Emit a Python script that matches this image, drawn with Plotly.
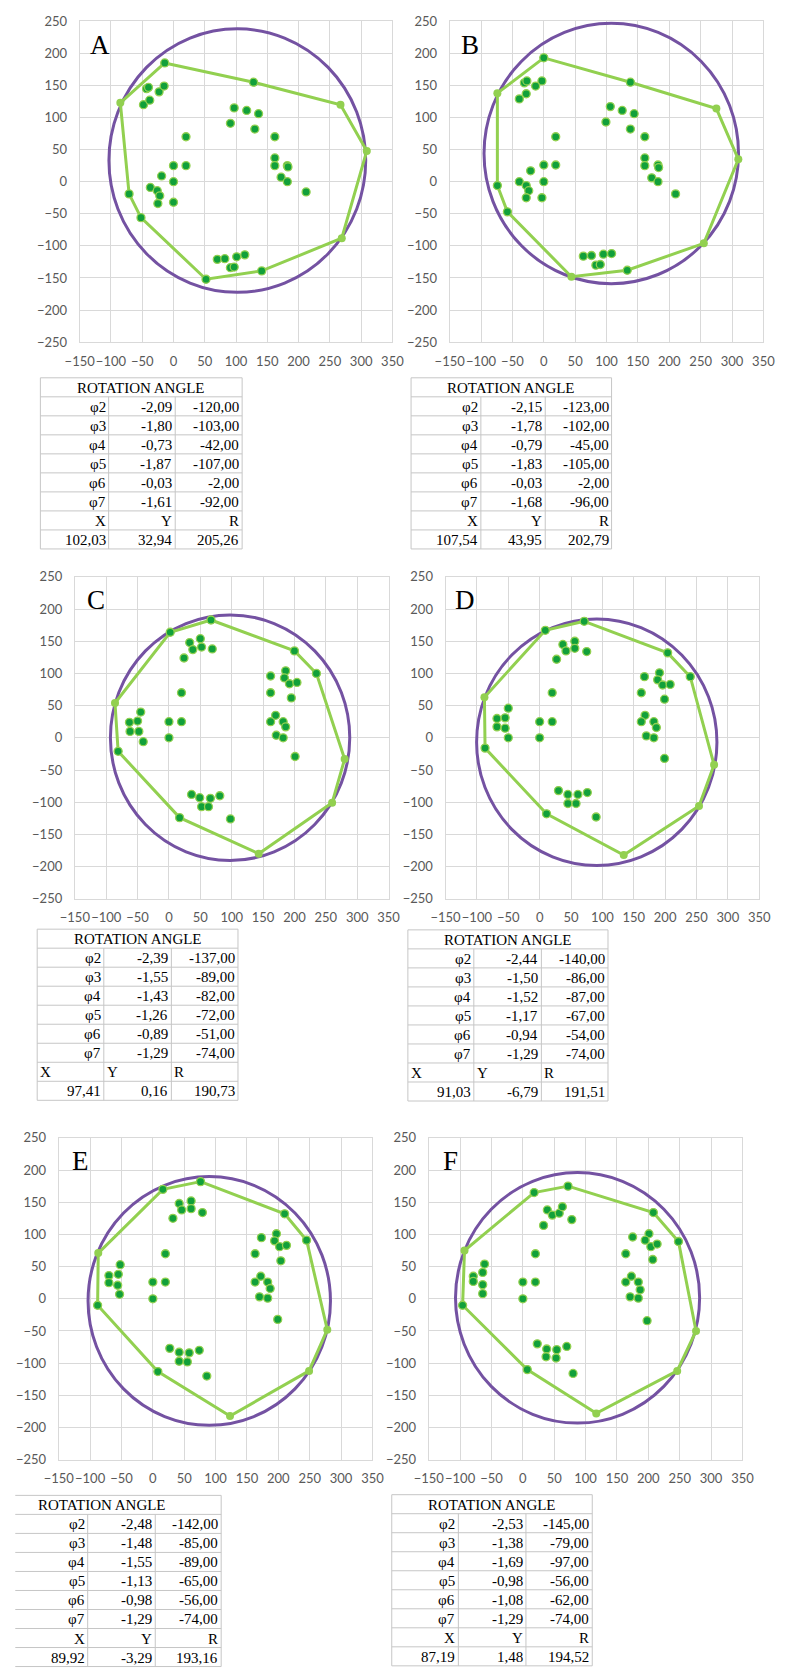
import plotly.graph_objects as go

# page size and the browser's default body margin (the plot div starts at 8,8)
PAGE_W, PAGE_H = 787, 1678
OFF = 8
W, H = PAGE_W - OFF, PAGE_H - OFF

# ---------------- DATA ----------------
# Panel A
A_HX = [-14, 128, 267, 309, 269, 141, 52, -52, -71, -85]
A_HY = [185, 155, 120, 48, -88, -139, -152, -56, -19, 123]
A_PX = [-14, 128, 141, 52, -52, -71,
        -43, -40, -23, -15, -48, -38, 20, 20, 0, 0, 0, -19, -37, -26, -22, -25,
        97, 91, 117, 136, 130, 162, 162, 162, 182, 183, 172, 182, 212,
        70, 82, 101, 114, 91, 97]
A_PY = [185, 155, -139, -152, -56, -19,
        145, 147, 140, 149, 120, 127, 70, 25, 25, 0, -32, 9, -9, -14, -22, -34,
        115, 91, 111, 106, 82, 70, 37, 25, 25, 23, 7, 0, -16,
        -121, -120, -117, -114, -134, -133]
A_RAD = [-2.09, -1.80, -0.73, -1.87, -0.03, -1.61]
A_DEG = [-120, -103, -42, -107, -2, -92]
A_XYR = [102.03, 32.94, 205.26]

# Panel B
B_HX = [0, 138, 275, 310, 255, 133, 44, -58, -74, -74]
B_HY = [193, 155, 114, 35, -96, -138, -148, -47, -6, 138]
B_PX = [0, 138, 133, -58, -74,
        -31, -27, -3, -13, -28, -39, 19, 19, 0, 0, -21, -39, -28, -24, -28, -3,
        106, 99, 125, 144, 138, 161, 161, 161, 182, 183, 172, 182, 210,
        63, 76, 95, 108, 83, 90]
B_PY = [193, 155, -138, -47, -6,
        154, 157, 157, 149, 137, 129, 70, 26, 26, 0, 17, 0, -6, -14, -25, -25,
        117, 93, 111, 106, 82, 70, 37, 25, 26, 22, 6, 0, -19,
        -116, -115, -113, -112, -130, -129]
B_RAD = [-2.15, -1.78, -0.79, -1.83, -0.03, -1.68]
B_DEG = [-123, -102, -45, -105, -2, -96]
B_XYR = [107.54, 43.95, 202.79]

# Panel C
C_HX = [67, 200, 235, 280, 260, 143, 17, -81, -86, 2]
C_HY = [183, 135, 100, -33, -101, -180, -124, -21, 54, 164]
C_PX = [67, 200, 235, 17, -81, 2,
        33, 38, 24, 50, 52, 69, 20, 20, 0, 0, -45, -63, -50, -62, -48, -41,
        162, 186, 184, 192, 204, 195, 162, 170, 162, 182, 186, 171, 182, 201,
        36, 49, 66, 81, 52, 63, 98]
C_PY = [183, 135, 100, -124, -21, 164,
        148, 137, 124, 154, 141, 138, 70, 25, 25, 0, 40, 24, 26, 10, 10, -6,
        96, 104, 93, 84, 86, 62, 70, 35, 25, 25, 17, 4, 0, -29,
        -88, -93, -94, -90, -107, -107, -126]
C_RAD = [-2.39, -1.55, -1.43, -1.26, -0.89, -1.29]
C_DEG = [-137, -89, -82, -72, -51, -74]
C_XYR = [97.41, 0.16, 190.73]

# Panel D
D_HX = [71, 204, 240, 278, 254, 134, 11, -87, -88, 9]
D_HY = [181, 132, 95, -42, -106, -182, -118, -16, 63, 167]
D_PX = [71, 204, 240, 11, -87, 9,
        37, 42, 27, 56, 56, 75, 20, 20, 0, 0, -50, -68, -55, -68, -55, -50,
        167, 191, 188, 196, 208, 199, 162, 168, 162, 182, 186, 170, 182, 199,
        30, 45, 61, 76, 45, 58, 90]
D_PY = [181, 132, 95, -118, -16, 167,
        145, 135, 122, 150, 139, 134, 70, 25, 25, 0, 46, 30, 31, 17, 15, 0,
        95, 101, 90, 82, 83, 60, 70, 35, 25, 25, 16, 3, 0, -32,
        -82, -88, -88, -85, -102, -102, -123]
D_RAD = [-2.44, -1.50, -1.52, -1.17, -0.94, -1.29]
D_DEG = [-140, -86, -87, -67, -54, -74]
D_XYR = [91.03, -6.79, 191.51]

# Panel E
E_HX = [76, 210, 245, 278, 249, 123, 8, -88, -87, 16]
E_HY = [182, 132, 91, -48, -112, -182, -113, -10, 71, 170]
E_PX = [76, 210, 245, 8, -88, 16,
        42, 46, 32, 61, 61, 79, 20, 20, 0, 0, -52, -70, -55, -70, -56, -53,
        173, 197, 194, 202, 213, 204, 163, 172, 163, 183, 187, 170, 183, 199,
        27, 42, 58, 74, 42, 55, 86]
E_PY = [182, 132, 91, -113, -10, 170,
        148, 138, 125, 152, 140, 134, 70, 26, 26, 0, 53, 36, 38, 25, 21, 7,
        95, 101, 90, 81, 83, 59, 70, 35, 26, 26, 16, 3, 1, -32,
        -77, -83, -84, -80, -97, -98, -120]
E_RAD = [-2.48, -1.48, -1.55, -1.13, -0.98, -1.29]
E_DEG = [-142, -85, -89, -65, -56, -74]
E_XYR = [89.92, -3.29, 193.16]

# Panel F
F_HX = [72, 208, 248, 276, 246, 117, 7, -96, -93, 18]
F_HY = [175, 134, 89, -50, -112, -178, -110, -10, 75, 165]
F_PX = [72, 208, 248, 7, -96, 18,
        39, 47, 33, 58, 63, 78, 20, 20, 0, 0, -61, -79, -64, -79, -64, -64,
        175, 201, 195, 204, 214, 207, 164, 173, 164, 184, 187, 171, 184, 198,
        23, 38, 54, 70, 37, 53, 80]
F_PY = [175, 134, 89, -110, -10, 165,
        138, 130, 114, 133, 143, 123, 70, 26, 26, 0, 54, 35, 41, 27, 22, 8,
        96, 101, 91, 81, 85, 61, 70, 35, 26, 26, 14, 3, 1, -34,
        -70, -78, -79, -74, -90, -92, -116]
F_RAD = [-2.53, -1.38, -1.69, -0.98, -1.08, -1.29]
F_DEG = [-145, -79, -97, -56, -62, -74]
F_XYR = [87.19, 1.48, 194.52]

ROW_LABELS = ["φ2", "φ3", "φ4", "φ5", "φ6", "φ7"]
XYR_LABELS = ["X", "Y", "R"]
TABLE_TITLE = "ROTATION ANGLE"
X_RANGE = [-150, 350]
Y_RANGE = [-250, 250]

# ---------------- LAYOUT (page pixels) ----------------
panels = [
    dict(name="A", hx=A_HX, hy=A_HY, px=A_PX, py=A_PY, rad=A_RAD, deg=A_DEG, xyr=A_XYR,
         plot=(66.7, 390.7, 13.3, 337.3), lab=(88, 37),
         table=dict(left=26, seps=(96.7, 165.7), right=235, top=373.3, xyr_left=False, lborder=True)),
    dict(name="B", hx=B_HX, hy=B_HY, px=B_PX, py=B_PY, rad=B_RAD, deg=B_DEG, xyr=B_XYR,
         plot=(450, 775, 13.3, 337.3), lab=(471, 37),
         table=dict(left=410, seps=(482.3, 549), right=617.7, top=373.3, xyr_left=False, lborder=True)),
    dict(name="C", hx=C_HX, hy=C_HY, px=C_PX, py=C_PY, rad=C_RAD, deg=C_DEG, xyr=C_XYR,
         plot=(61.7, 386.7, 574.3, 899.3), lab=(84, 598),
         table=dict(left=22.7, seps=(91.7, 161.7), right=230.7, top=930, xyr_left=True, lborder=True)),
    dict(name="D", hx=D_HX, hy=D_HY, px=D_PX, py=D_PY, rad=D_RAD, deg=D_DEG, xyr=D_XYR,
         plot=(445.7, 770.7, 574.3, 899.3), lab=(466, 598),
         table=dict(left=406.7, seps=(475, 545), right=614, top=930.7, xyr_left=True, lborder=True)),
    dict(name="E", hx=E_HX, hy=E_HY, px=E_PX, py=E_PY, rad=E_RAD, deg=E_DEG, xyr=E_XYR,
         plot=(45, 370, 1140.7, 1465.7), lab=(68, 1164),
         table=dict(left=-33, seps=(75, 145), right=213.3, top=1501.7, xyr_left=False, lborder=False)),
    dict(name="F", hx=F_HX, hy=F_HY, px=F_PX, py=F_PY, rad=F_RAD, deg=F_DEG, xyr=F_XYR,
         plot=(428.3, 753.3, 1140.7, 1465.7), lab=(451, 1164),
         table=dict(left=390, seps=(459, 529), right=597.7, top=1501, xyr_left=False, lborder=True)),
]

ROW_H = 19.2
GRID = "#d9d9d9"
TBL_LINE = "#c6c6c6"
GREEN_LINE = "#92d050"
GREEN_DOT = "#11a03a"
PURPLE = "#7452a2"
SERIF = "Liberation Serif, Times New Roman, serif"


def fx(px):
    return (px - OFF) / W


def fy(py):
    return 1 - (py - OFF) / H


def fmt(v):
    return f"{v:.2f}".replace(".", ",")


fig = go.Figure()
shapes = []
annotations = []

for i, p in enumerate(panels):
    k = "" if i == 0 else str(i + 1)
    xa, ya = "x" + k, "y" + k
    l, r, t, b = p["plot"]
    ax = dict(range=X_RANGE, tick0=0, dtick=50, showgrid=True, gridcolor=GRID, gridwidth=1,
              zeroline=False, showline=True, linecolor=GRID, linewidth=1, mirror=True,
              ticks="outside", ticklen=7, tickcolor="rgba(0,0,0,0)", tickangle=0,
              tickfont=dict(family="Lato", size=13, color="#595959"), fixedrange=True)
    xaxis = dict(ax, domain=[fx(l), fx(r)], anchor=ya)
    yaxis = dict(ax, range=Y_RANGE, domain=[fy(b), fy(t)], anchor=xa, ticklen=9)
    fig.layout["xaxis" + k] = xaxis
    fig.layout["yaxis" + k] = yaxis

    hx = p["hx"] + p["hx"][:1]
    hy = p["hy"] + p["hy"][:1]
    fig.add_trace(go.Scatter(x=hx, y=hy, mode="lines+markers", xaxis=xa, yaxis=ya,
                             line=dict(color=GREEN_LINE, width=3),
                             marker=dict(color=GREEN_LINE, size=8),
                             showlegend=False, hoverinfo="skip"))
    fig.add_trace(go.Scatter(x=p["px"], y=p["py"], mode="markers", xaxis=xa, yaxis=ya,
                             marker=dict(color=GREEN_DOT, size=8,
                                         line=dict(color=GREEN_LINE, width=1.3)),
                             showlegend=False, hoverinfo="skip"))
    cx, cy, cr = p["xyr"]
    shapes.append(dict(type="circle", xref=xa, yref=ya, x0=cx - cr, x1=cx + cr,
                       y0=cy - cr, y1=cy + cr, line=dict(color=PURPLE, width=3),
                       layer="between"))
    annotations.append(dict(text=p["name"], xref="paper", yref="paper",
                            x=fx(p["lab"][0]), y=fy(p["lab"][1]),
                            xanchor="center", yanchor="middle", showarrow=False,
                            font=dict(family=SERIF, size=27, color="#000000")))

    # ---- table ----
    tb = p["table"]
    L, R_, T = tb["left"], tb["right"], tb["top"]
    s1, s2 = tb["seps"]
    nrows = 9
    Bt = T + nrows * ROW_H
    line = dict(color=TBL_LINE, width=1)
    for j in range(nrows + 1):
        yy = T + j * ROW_H
        shapes.append(dict(type="line", xref="paper", yref="paper", x0=fx(max(L, 0)), x1=fx(R_),
                           y0=fy(yy), y1=fy(yy), line=line))
    if tb["lborder"]:
        shapes.append(dict(type="line", xref="paper", yref="paper", x0=fx(L), x1=fx(L),
                           y0=fy(T), y1=fy(Bt), line=line))
    shapes.append(dict(type="line", xref="paper", yref="paper", x0=fx(R_), x1=fx(R_),
                       y0=fy(T), y1=fy(Bt), line=line))
    for s in (s1, s2):
        shapes.append(dict(type="line", xref="paper", yref="paper", x0=fx(s), x1=fx(s),
                           y0=fy(T + ROW_H), y1=fy(Bt), line=line))
    tfont = dict(family=SERIF, size=15, color="#000000")

    def cell(txt, xpx, row, anchor):
        annotations.append(dict(text=txt, xref="paper", yref="paper", x=fx(xpx),
                                y=fy(T + (row + 0.5) * ROW_H + 0.5), xanchor=anchor,
                                yanchor="middle", showarrow=False, font=tfont))

    cell(TABLE_TITLE, (L + R_) / 2, 0, "center")
    for j, (lab, rv, dv) in enumerate(zip(ROW_LABELS, p["rad"], p["deg"])):
        cell(lab, s1 - 1, j + 1, "right")
        cell(fmt(rv), s2 - 1, j + 1, "right")
        cell(fmt(dv), R_ - 1, j + 1, "right")
    if tb["xyr_left"]:
        cell(XYR_LABELS[0], L + 1, 7, "left")
        cell(XYR_LABELS[1], s1 + 1, 7, "left")
        cell(XYR_LABELS[2], s2 + 1, 7, "left")
    else:
        cell(XYR_LABELS[0], s1 - 1, 7, "right")
        cell(XYR_LABELS[1], s2 - 1, 7, "right")
        cell(XYR_LABELS[2], R_ - 1, 7, "right")
    cell(fmt(p["xyr"][0]), s1 - 1, 8, "right")
    cell(fmt(p["xyr"][1]), s2 - 1, 8, "right")
    cell(fmt(p["xyr"][2]), R_ - 1, 8, "right")

fig.update_layout(width=W, height=H, margin=dict(l=0, r=0, t=0, b=0),
                  paper_bgcolor="white", plot_bgcolor="white",
                  shapes=shapes, annotations=annotations, showlegend=False)

fig.write_html("out.html")
